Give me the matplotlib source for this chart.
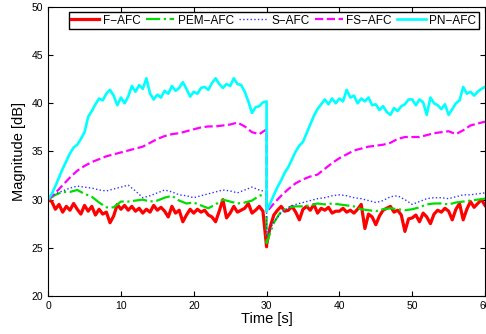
import numpy as np
import matplotlib
matplotlib.use("Agg")
import matplotlib.pyplot as plt

plt.rcParams['font.family'] = ['Liberation Sans', 'DejaVu Sans']

# time grids (two halves, restart at t = 30 s)
t_fine_1 = np.arange(0, 30.01, 0.5)
t_fine_2 = np.arange(30, 60.01, 0.5)
t_coarse_1 = np.arange(0, 31, 1)
t_coarse_2 = np.arange(30, 61, 1)

# F-AFC (red)
f_afc_1 = [30.0, 29.8, 29.0, 29.5, 28.7, 29.3, 28.9, 29.6, 29.0, 28.5,
           29.4, 28.8, 29.3, 28.4, 29.0, 28.5, 28.7, 27.6, 28.3, 29.5,
           29.0, 29.4, 28.9, 29.3, 28.8, 29.1, 28.6, 29.0, 28.7, 29.4,
           28.9, 29.2, 28.8, 28.2, 29.3, 28.6, 28.9, 27.7, 28.4, 29.0,
           28.6, 29.0, 28.7, 28.9, 28.4, 28.2, 27.7, 28.8, 30.0, 28.1,
           28.6, 29.3, 28.7, 28.9, 29.1, 29.6, 28.6, 28.9, 29.3, 28.8,
           25.1]
f_afc_2 = [25.3, 27.2, 28.4, 28.9, 29.3, 28.8, 28.9, 29.3, 28.7, 27.9,
           29.0, 29.3, 28.9, 29.5, 28.6, 29.1, 28.9, 29.2, 28.6, 28.8,
           28.8, 29.1, 28.7, 28.9, 28.6, 29.0, 29.5, 27.0, 28.5, 28.2,
           27.4, 28.3, 28.9, 29.1, 29.3, 28.7, 28.9, 28.4, 26.7, 28.0,
           28.1, 28.4, 27.7, 28.6, 28.2, 27.5, 28.5, 28.9, 28.7, 29.1,
           28.8, 27.9, 29.0, 29.6, 27.9, 29.0, 29.8, 29.2, 29.6, 30.0,
           29.4]

# PEM-AFC (green)
pem_afc_1 = [30.0, 30.5, 30.8, 30.8, 31.0, 30.6, 30.3, 29.7, 29.2, 29.2,
             29.8, 29.8, 29.9, 30.0, 29.8, 29.9, 30.2, 30.4, 29.9, 29.6,
             29.7, 29.4, 29.1, 29.5, 30.0, 29.8, 29.6, 29.7, 29.9, 30.4,
             30.6]
pem_afc_2 = [25.5, 27.6, 28.8, 29.2, 29.3, 29.3, 29.4, 29.6, 29.5, 29.6,
             29.5, 29.4, 29.3, 29.0, 28.9, 28.8, 29.0, 29.1, 29.0, 28.9,
             29.0, 29.2, 29.5, 29.6, 29.6, 29.5, 29.7, 29.8, 29.9, 30.0,
             30.1]

# S-AFC (blue)
s_afc_1 = [30.0, 30.6, 30.9, 31.2, 31.4, 31.3, 31.2, 31.0, 30.9, 31.1,
           31.3, 31.5, 30.9, 30.2, 30.4, 30.7, 31.0, 30.8, 30.5, 30.4,
           30.2, 30.4, 30.6, 30.8, 31.0, 30.9, 30.7, 31.0, 31.3, 31.0,
           30.8]
s_afc_2 = [26.3, 27.7, 28.6, 29.2, 29.5, 29.7, 29.9, 30.1, 30.2, 30.4,
           30.5, 30.4, 30.2, 30.1, 29.9, 29.7, 29.9, 30.3, 30.4, 30.0,
           29.5, 29.8, 30.1, 30.2, 30.2, 30.1, 30.3, 30.5, 30.5, 30.6,
           30.7]

# FS-AFC (magenta)
fs_afc_1 = [30.0, 30.7, 31.5, 32.3, 33.0, 33.5, 33.9, 34.2, 34.5, 34.7,
            34.9, 35.1, 35.3, 35.5, 35.9, 36.3, 36.6, 36.8, 36.9, 37.1,
            37.3, 37.5, 37.6, 37.6, 37.7, 37.8, 38.0, 37.6, 37.0, 36.8,
            37.3]
fs_afc_2 = [28.7, 29.6, 30.4, 31.1, 31.7, 32.1, 32.4, 32.6, 33.2, 33.8,
            34.3, 34.7, 35.1, 35.3, 35.5, 35.6, 35.7, 35.9, 36.3, 36.5,
            36.5, 36.5, 36.7, 36.9, 37.0, 37.1, 36.8, 37.2, 37.7, 37.9,
            38.1]

# PN-AFC (cyan)
pn_afc_1 = [30.0, 30.6, 31.4, 32.3, 33.2, 34.0, 34.8, 35.4, 35.7, 36.3,
            37.0, 38.6, 39.2, 39.9, 40.5, 40.3, 41.0, 41.4, 40.8, 39.8,
            40.6, 40.0, 40.7, 41.8, 41.2, 41.9, 41.5, 42.6, 41.0, 40.4,
            40.9, 40.6, 41.3, 41.0, 41.8, 41.3, 41.6, 42.2, 41.5, 40.7,
            41.2, 41.0, 41.6, 41.7, 41.4, 42.1, 42.6, 42.0, 41.6, 42.0,
            41.8, 42.6, 42.0, 41.9, 41.2, 40.2, 39.0, 39.6, 39.7, 40.1,
            40.2]
pn_afc_2 = [28.8, 29.6, 30.5, 31.3, 32.0, 32.8, 33.4, 34.2, 35.0, 35.6,
            36.0, 36.9, 37.8, 38.7, 39.4, 39.9, 40.4, 39.9, 40.5, 40.0,
            40.5, 40.2, 41.4, 40.6, 40.8, 40.0, 40.5, 40.2, 40.6, 39.8,
            39.9, 39.3, 39.7, 39.1, 38.8, 39.5, 39.2, 39.7, 39.9, 40.4,
            40.4, 39.8, 40.4, 40.1, 38.8, 40.6, 40.0, 39.8, 39.4, 39.9,
            38.8, 39.4, 40.0, 40.3, 41.7, 41.0, 41.2, 40.8, 41.2, 41.5,
            41.7]

t_fine = np.concatenate([t_fine_1, t_fine_2])
t_coarse = np.concatenate([t_coarse_1, t_coarse_2])

fig = plt.figure(figsize=(4.86, 3.34), dpi=100)
ax = fig.add_axes([0.099, 0.114, 0.899, 0.865])

ax.plot(t_fine, f_afc_1 + f_afc_2, color='red', lw=2.3, ls='-', label='F\u2212AFC')
ax.plot(t_coarse, pem_afc_1 + pem_afc_2, color='#00dd00', lw=1.6, ls='-.', label='PEM\u2212AFC')
ax.plot(t_coarse, s_afc_1 + s_afc_2, color='#3333ff', lw=1.0, ls=':', label='S\u2212AFC')
ax.plot(t_coarse, fs_afc_1 + fs_afc_2, color='magenta', lw=1.6, ls='--', label='FS\u2212AFC')
ax.plot(t_fine, pn_afc_1 + pn_afc_2, color='cyan', lw=1.9, ls='-', label='PN\u2212AFC')

ax.set_xlim(0, 60)
ax.set_ylim(20, 50)
ax.set_xticks(range(0, 61, 10))
ax.set_yticks(range(20, 51, 5))
ax.tick_params(direction='in', top=True, right=True, labelsize=7.5, length=3.5)
ax.set_xlabel('Time [s]', fontsize=10.5, labelpad=1)
ax.set_ylabel('Magnitude [dB]', fontsize=10.5, labelpad=4)

ax.legend(loc='upper center', ncol=5, fontsize=8.5, frameon=True, fancybox=False,
          edgecolor='black', framealpha=1, handlelength=2.4, handletextpad=0.3,
          columnspacing=0.45, borderpad=0.2, borderaxespad=0.0,
          bbox_to_anchor=(0.516, 0.982))

plt.savefig('out.png', dpi=100)
